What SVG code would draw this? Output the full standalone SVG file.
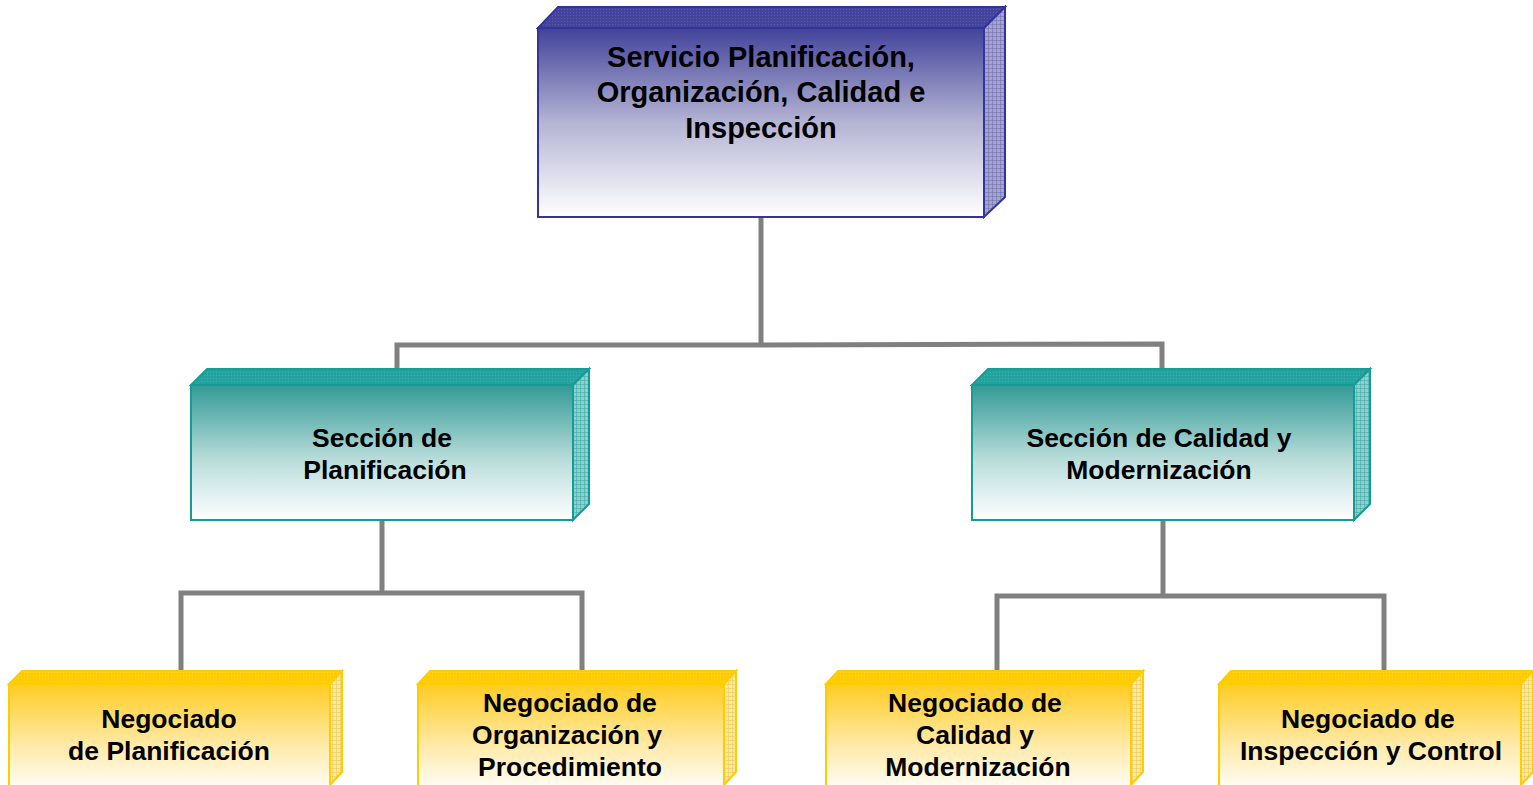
<svg xmlns="http://www.w3.org/2000/svg" width="1533" height="785" viewBox="0 0 1533 785">
<defs>
<style>
.conn{fill:none;stroke:#808080;stroke-width:5;stroke-linejoin:miter}
.t{font-family:"Liberation Sans",Arial,sans-serif;font-weight:bold;fill:#000;text-anchor:middle}
.t28{font-size:29px}
.t26{font-size:26.5px}
.b{stroke:#333399;stroke-width:2}
.g{stroke:#169c97;stroke-width:2}
.y{stroke:#ffcc00;stroke-width:2}
</style>
<linearGradient id="gB" x1="0" y1="0" x2="0" y2="1">
<stop offset="0" stop-color="#42429a"/><stop offset="0.5" stop-color="#b4b4d4"/><stop offset="1" stop-color="#ffffff"/>
</linearGradient>
<linearGradient id="gT" x1="0" y1="0" x2="0" y2="1">
<stop offset="0" stop-color="#329a96"/><stop offset="0.55" stop-color="#b8dcda"/><stop offset="1" stop-color="#ffffff"/>
</linearGradient>
<linearGradient id="gY" x1="0" y1="0" x2="0" y2="1">
<stop offset="0" stop-color="#ffcc22"/><stop offset="0.6" stop-color="#ffeaa8"/><stop offset="1" stop-color="#fffcf2"/>
</linearGradient>
<pattern id="pBtop" width="3" height="3" patternUnits="userSpaceOnUse">
<rect width="3" height="3" fill="#44449c"/><rect width="1" height="1" fill="#5a5aab"/>
</pattern>
<pattern id="pBside" width="4" height="4" patternUnits="userSpaceOnUse">
<rect width="4" height="4" fill="#a4a4cc"/><path d="M0 0h4M0 0v4" stroke="#6a6ab0" stroke-width="1"/>
</pattern>
<pattern id="pTtop" width="3" height="3" patternUnits="userSpaceOnUse">
<rect width="3" height="3" fill="#22a39e"/><rect width="1" height="1" fill="#40b2ae"/>
</pattern>
<pattern id="pTside" width="4" height="4" patternUnits="userSpaceOnUse">
<rect width="4" height="4" fill="#8ccfcc"/><path d="M0 0h4M0 0v4" stroke="#3aa8a4" stroke-width="1"/>
</pattern>
<pattern id="pYtop" width="3" height="3" patternUnits="userSpaceOnUse">
<rect width="3" height="3" fill="#ffcc00"/><rect width="1" height="1" fill="#ffd640"/>
</pattern>
<pattern id="pYside" width="4" height="4" patternUnits="userSpaceOnUse">
<rect width="4" height="4" fill="#fde9a0"/><path d="M0 0h4M0 0v4" stroke="#e8c24a" stroke-width="1"/>
</pattern>
</defs>
<rect width="1533" height="785" fill="#ffffff"/>
<g id="connectors">
<polyline class="conn" points="761,217 761,344"/>
<polyline class="conn" points="397,371 397,345 761,345 1162,344 1162,371"/>
<polyline class="conn" points="382,520 382,593"/>
<polyline class="conn" points="181,673 181,593 582,593 582,673"/>
<polyline class="conn" points="1163,520 1163,596"/>
<polyline class="conn" points="997,673 997,596 1384,596 1384,673"/>
</g>
<g id="n-servicio">
<polygon class="b" points="538,28 558,7 1005,7 984,28" fill="url(#pBtop)"/>
<polygon class="b" points="984,28 1005,7 1005,197 984,217" fill="url(#pBside)"/>
<rect class="b" x="538" y="28" width="446" height="189" fill="url(#gB)"/>
<text class="t t28" x="761" y="67">Servicio Planificación,</text>
<text class="t t28" x="761" y="102">Organización, Calidad e</text>
<text class="t t28" x="761" y="138">Inspección</text>
</g>
<g id="n-sec-planif">
<polygon class="g" points="191,385 207,369 589,369 573,385" fill="url(#pTtop)"/>
<polygon class="g" points="573,385 589,369 589,504 573,520" fill="url(#pTside)"/>
<rect class="g" x="191" y="385" width="382" height="135" fill="url(#gT)"/>
<text class="t t26" x="382" y="447">Sección de</text>
<text class="t t26" x="385" y="479">Planificación</text>
</g>
<g id="n-sec-calidad">
<polygon class="g" points="972,385 988,369 1370,369 1354,385" fill="url(#pTtop)"/>
<polygon class="g" points="1354,385 1370,369 1370,504 1354,520" fill="url(#pTside)"/>
<rect class="g" x="972" y="385" width="382" height="135" fill="url(#gT)"/>
<text class="t t26" x="1159" y="447">Sección de Calidad y</text>
<text class="t t26" x="1159" y="479">Modernización</text>
</g>
<g id="n-neg-planif">
<polygon class="y" points="9,684 22,671 342,671 330,684" fill="url(#pYtop)"/>
<polygon class="y" points="330,684 342,671 342,772 330,785" fill="url(#pYside)"/>
<rect class="y" x="9" y="684" width="321" height="102" fill="url(#gY)"/>
<text class="t t26" x="169" y="728">Negociado</text>
<text class="t t26" x="169" y="760">de Planificación</text>
</g>
<g id="n-neg-org">
<polygon class="y" points="418,684 430,671 736,671 724,684" fill="url(#pYtop)"/>
<polygon class="y" points="724,684 736,671 736,772 724,785" fill="url(#pYside)"/>
<rect class="y" x="418" y="684" width="306" height="102" fill="url(#gY)"/>
<text class="t t26" x="570" y="712">Negociado de</text>
<text class="t t26" x="567" y="744">Organización y</text>
<text class="t t26" x="570" y="776">Procedimiento</text>
</g>
<g id="n-neg-cal">
<polygon class="y" points="826,684 838,671 1143,671 1131,684" fill="url(#pYtop)"/>
<polygon class="y" points="1131,684 1143,671 1143,772 1131,785" fill="url(#pYside)"/>
<rect class="y" x="826" y="684" width="305" height="102" fill="url(#gY)"/>
<text class="t t26" x="975" y="712">Negociado de</text>
<text class="t t26" x="975" y="744">Calidad y</text>
<text class="t t26" x="978" y="776">Modernización</text>
</g>
<g id="n-neg-insp">
<polygon class="y" points="1219,684 1231,671 1533,671 1521,684" fill="url(#pYtop)"/>
<polygon class="y" points="1521,684 1533,671 1533,772 1521,785" fill="url(#pYside)"/>
<rect class="y" x="1219" y="684" width="302" height="102" fill="url(#gY)"/>
<text class="t t26" x="1368" y="728">Negociado de</text>
<text class="t t26" x="1371" y="760">Inspección y Control</text>
</g>
</svg>
